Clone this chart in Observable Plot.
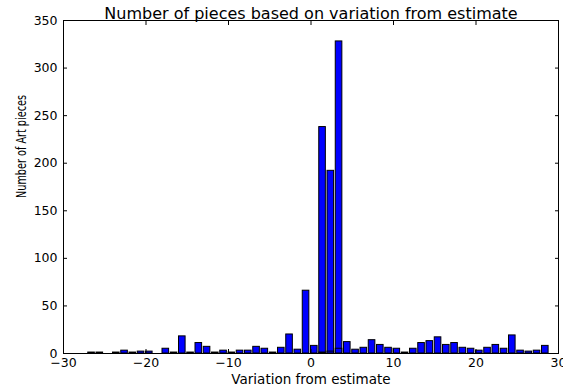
<!DOCTYPE html>
<html><head><meta charset="utf-8">
<script src="https://cdn.jsdelivr.net/npm/d3@7"></script>
<script src="https://cdn.jsdelivr.net/npm/@observablehq/plot@0.6"></script>
<style>
body{margin:0;background:#fff}
#chart svg{font-family:"DejaVu Sans",sans-serif}
</style>
</head><body><div id="chart"></div><script>
const variation = [-27,-26,-24,-23,-22,-21,-20,-18,-17,-16,-15,-14,-13,-12,-11,-10,-9,-8,-7,-6,-5,-4,-3,-2,-1,0,1,2,3,4,5,6,7,8,9,10,11,12,13,14,15,16,17,18,19,20,21,22,23,24,25,26,27,28];
const counts    = [1,1,1,3,1,2,2,5,1,18,1,11,7,1,3,1,3,3,7,5,1,6,20,4,66,8,238,192,328,12,4,6,14,9,6,5,1,5,11,13,17,9,11,6,5,3,6,9,5,19,3,2,3,8];
const overlapVariation = [1,2,3];
const overlapCounts    = [1,2,5];
const xTicks = [-30,-20,-10,0,10,20,30];
const yTicks = [0,50,100,150,200,250,300,350];
const titleText = "Number of pieces based on variation from estimate";
const xLabel = "Variation from estimate";
const yLabel = "Number of Art pieces";
const barWidth = 0.8;

const bars = variation.map((v,i)=>({v, n: counts[i]}));
const over = overlapVariation.map((v,i)=>({v, n: overlapCounts[i]}));
const barOpts = {x1:"v", x2:d=>d.v+barWidth, y1:0, y2:"n", fill:"#0000ff", stroke:"black", strokeWidth:1};

const chart = Plot.plot({
  width:563, height:391,
  marginLeft:63, marginRight:5, marginTop:20, marginBottom:38,
  style:{fontFamily:"DejaVu Sans", fontSize:"12px", color:"black", background:"white"},
  x:{domain:[-30,30]},
  y:{domain:[0,350]},
  marks:[
    Plot.rectY(bars, barOpts),
    Plot.rectY(over, barOpts),
    Plot.frame({stroke:"black", strokeWidth:1}),
    Plot.axisX({ticks:xTicks, tickSize:0, tickPadding:5, fontSize:12.5, label:null}),
    Plot.axisX({anchor:"bottom", ticks:xTicks, tickSize:-4, tickFormat:()=>"", label:null}),
    Plot.axisX({anchor:"top", ticks:xTicks, tickSize:-4, tickFormat:()=>"", label:null}),
    Plot.axisY({ticks:yTicks, tickSize:0, tickPadding:6, fontSize:12.5, label:null}),
    Plot.axisY({anchor:"left", ticks:yTicks, tickSize:-4, tickFormat:()=>"", label:null}),
    Plot.axisY({anchor:"right", ticks:yTicks, tickSize:-4, tickFormat:()=>"", label:null}),
    Plot.text([titleText], {frameAnchor:"top", dy:-13, fontSize:16, text:d=>d}),
    Plot.text([xLabel], {frameAnchor:"bottom", dy:30, fontSize:13.5, text:d=>d}),
    Plot.text([yLabel], {frameAnchor:"left", dx:-42, dy:11, rotate:-90, fontSize:13.5, text:d=>d})
  ]
});
document.getElementById("chart").appendChild(chart);
d3.select(chart).selectAll("text").filter(function(){return this.textContent===yLabel;})
  .attr("textLength",103).attr("lengthAdjust","spacingAndGlyphs");
</script></body></html>
